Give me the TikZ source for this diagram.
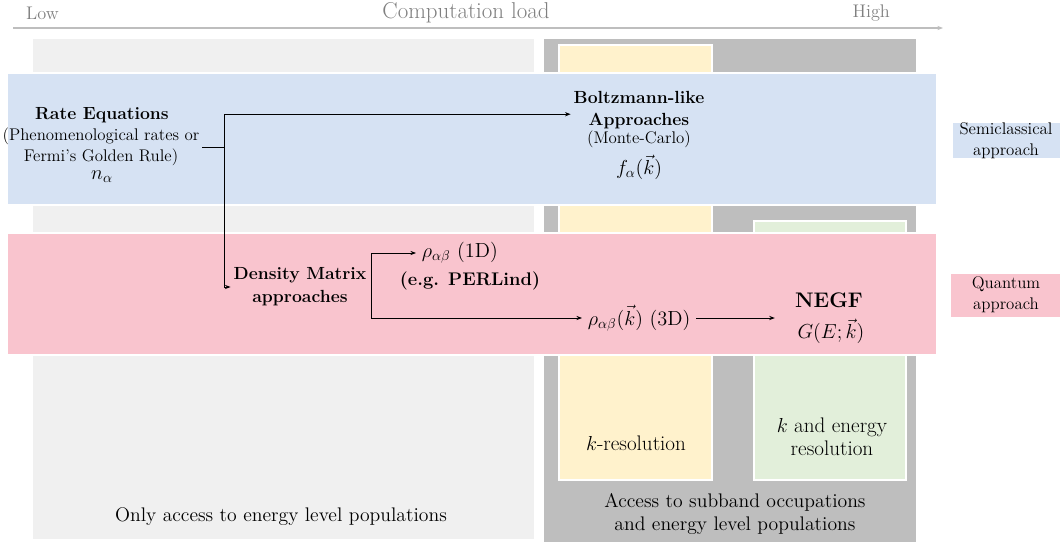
\documentclass[tikz,border=0pt]{standalone}
\usetikzlibrary{positioning,arrows.meta,calc,shadows}
\definecolor{PanelLight}{RGB}{240,240,240}
\definecolor{PanelDark}{RGB}{190,190,190}
\definecolor{KYellow}{RGB}{255,242,204}
\definecolor{KGreen}{RGB}{226,239,218}
\definecolor{SemiBlue}{RGB}{214,226,243}
\definecolor{QuantPink}{RGB}{249,196,206}
\definecolor{AxisGray}{RGB}{128,128,128}

\begin{document}
\begin{tikzpicture}[x=0.025cm, y=-0.025cm,
    every node/.style={align=center, inner sep=2pt},
    panel/.style={draw=white, line width=1.2pt,
      drop shadow={shadow xshift=0.9pt, shadow yshift=-0.9pt, opacity=0.3}},
    txt/.style={font=\fontsize{14}{16.3}\selectfont},
    sub/.style={font=\fontsize{12}{15}\selectfont},
    ttl/.style={font=\fontsize{12.5}{15.6}\selectfont\bfseries},
    maths/.style={font=\fontsize{14.5}{16}\selectfont, inner ysep=1pt},
    axislab/.style={text=AxisGray, font=\fontsize{13}{15}\selectfont},
    link/.style={-{Stealth[length=4pt, width=3pt]}, line width=0.6pt}]
  \useasboundingbox (0,0) rectangle (1060,547);

  % axis
  \node[axislab, font=\fontsize{16.3}{18}\selectfont] (load) at (466,13) {Computation load};
  \node[axislab, anchor=west] (low) at (23,13) {Low};
  \node[axislab, anchor=east] (high) at (893,13) {High};
  \draw[PanelDark, line width=1.3pt, -{Stealth[length=4pt, width=3pt]}] (13,28) -- (943,28);

  % panels
  \draw[panel, fill=PanelLight] (32,38) rectangle (535,540);
  \draw[panel, fill=PanelDark] (543,38) rectangle (917,543);
  \draw[panel, fill=KYellow] (559,45) rectangle (712,480);
  \draw[panel, fill=KGreen] (754,221) rectangle (906,480);

  % bands
  \draw[panel, fill=SemiBlue] (7,73) rectangle (937,205);
  \draw[panel, fill=QuantPink] (7,233) rectangle (937,355);
  \draw[panel, fill=SemiBlue] (952,122) rectangle (1062,159);
  \draw[panel, fill=QuantPink] (950,273) rectangle (1062,318);

  \node[sub] (semi) at (1006,141) {Semiclassical\\approach};
  \node[sub] (quant) at (1006,295) {Quantum\\approach};

  % methods
  \node[ttl] (rate) at (102,115) {Rate Equations};
  \node[sub] (ratesub) at (101,147) {(Phenomenological rates or\\Fermi's Golden Rule)};
  \node[maths] (nal) at (102,177) {$n_\alpha$};

  \node[ttl] (boltz) at (639,110) {Boltzmann-like\\Approaches};
  \node[sub, inner ysep=1pt] (mc) at (639,139) {(Monte-Carlo)};
  \node[maths] (fal) at (639,167) {$f_\alpha(\vec{k})$};

  \node[ttl, font=\fontsize{12.5}{16.3}\selectfont\bfseries] (dens) at (300,287) {Density Matrix\\approaches};
  \node[maths, anchor=west, inner xsep=4pt] (rho1) at (416,253) {$\rho_{\alpha\beta}$ (1D)};
  \node[ttl, font=\fontsize{13}{15}\selectfont\bfseries] (perl) at (470,281) {(e.g. PERLind)};
  \node[maths, anchor=west, inner xsep=4pt] (rho3) at (582,318) {$\rho_{\alpha\beta}(\vec{k})$ (3D)};
  \node[font=\fontsize{15}{18}\selectfont\bfseries, inner ysep=1pt] (negf) at (829,300) {NEGF};
  \node[maths] (gek) at (831,331) {$G(E;\vec{k})$};

  % resolution labels
  \node[txt, font=\fontsize{15}{16.3}\selectfont] (kres) at (636,443) {$k$-resolution};
  \node[txt, font=\fontsize{15}{16.3}\selectfont] (keres) at (832,437) {$k$ and energy\\resolution};
  \node[txt] (subacc) at (735,514) {Access to subband occupations\\and energy level populations};
  \node[txt] (onlyacc) at (281,517) {Only access to energy level populations};

  % connectors
  \coordinate (fork) at (ratesub.east -| 224,0);
  \draw[line width=0.6pt] (ratesub.east) -- (fork);
  \draw[link] (fork) |- ([yshift=-3pt]boltz.west);
  \draw[link] (fork) |- (dens.west);
  \coordinate (dfork) at (371,290);
  \draw[link] (dfork) |- (rho1.west);
  \draw[link] (dfork) |- (rho3.west);
  \draw[link, shorten >=14pt] (rho3.east) -- (rho3.east -| gek.west);
\end{tikzpicture}
\end{document}
